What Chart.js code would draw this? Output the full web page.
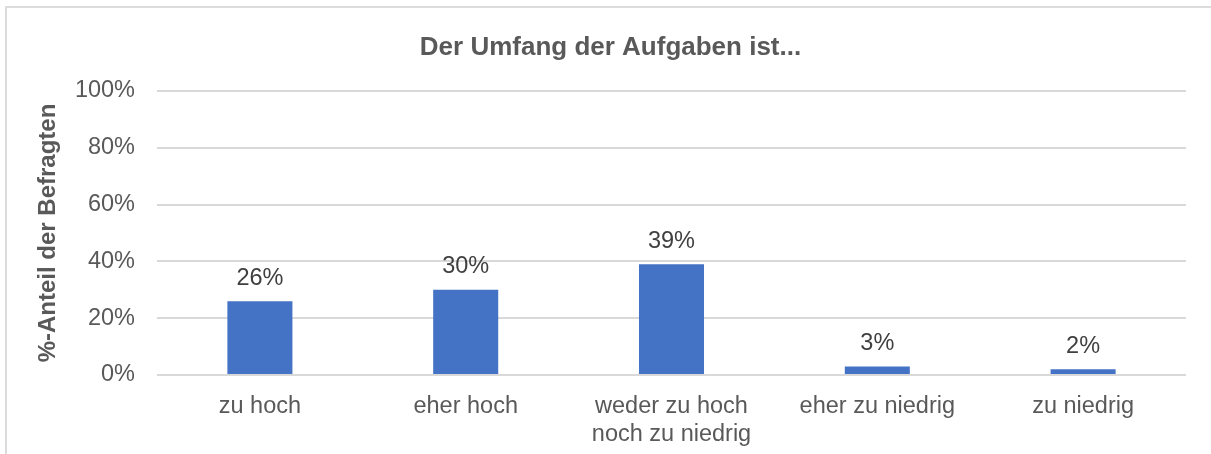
<!DOCTYPE html>
<html>
<head>
<meta charset="utf-8">
<script src="https://cdn.jsdelivr.net/npm/chart.js@4"></script>
<style>
  html, body { margin: 0; padding: 0; background: #fff; overflow: hidden; }
  #wrap { position: relative; width: 1211px; height: 454px; }
  #frame { position: absolute; left: 5px; top: 6px; width: 1300px; height: 600px; border: 2px solid #dcdcdc; box-sizing: border-box; }
  #myChart { position: absolute; left: 0; top: 0; }
</style>
</head>
<body>
<div id="wrap">
  <div id="frame"></div>
  <canvas id="myChart" width="1211" height="454"></canvas>
</div>
<script>
const ctx = document.getElementById('myChart').getContext('2d');

// categories + values (percent)
const categories = [
    'zu hoch',
    'eher hoch',
    ['weder zu hoch', 'noch zu niedrig'],
    'eher zu niedrig',
    'zu niedrig'
];
const shares = [26, 30, 39, 3, 2];
const yTicks = [0, 20, 40, 60, 80, 100];
const chartTitle = 'Der Umfang der Aufgaben ist...';

const FONT = "'Liberation Sans', Arial, sans-serif";

// labels above bars + title (title is not centred on the canvas in the original)
const barLabels = {
    id: 'barLabels',
    afterDatasetsDraw(chart) {
        const c = chart.ctx;
        const meta = chart.getDatasetMeta(0);
        c.save();
        c.font = '23.5px ' + FONT;
        c.fillStyle = '#404040';
        c.textAlign = 'center';
        c.textBaseline = 'alphabetic';
        meta.data.forEach((bar, i) => {
            c.fillText(shares[i] + '%', bar.x, bar.y - 16.5);
        });

        c.font = 'bold 26px ' + FONT;
        c.fillStyle = '#595959';
        c.fillText(chartTitle, 610.5, 55);
        c.restore();
    }
};

const myChart = new Chart(ctx, {
    type: 'bar',
    data: {
        labels: categories,
        datasets: [{
            data: shares,
            backgroundColor: '#4472C4',
            borderWidth: 0,
            categoryPercentage: 1,
            barPercentage: 0.316
        }]
    },
    options: {
        responsive: false,
        devicePixelRatio: 1,
        animation: false,
        layout: { padding: { left: 0, right: 25, top: 91, bottom: 0 } },
        plugins: {
            legend: { display: false },
            tooltip: { enabled: false },
            title: { display: false }
        },
        scales: {
            x: {
                grid: { display: false },
                border: { display: false },
                ticks: {
                    color: '#595959',
                    font: { family: FONT, size: 23.5, lineHeight: 1.17 },
                    padding: 10,
                    maxRotation: 0,
                    autoSkip: false
                },
                afterFit(scale) { scale.height = 79; }
            },
            y: {
                min: 0,
                max: 100,
                afterBuildTicks(scale) {
                    scale.ticks = yTicks.map(v => ({ value: v }));
                },
                grid: { color: '#d9d9d9', lineWidth: 2, drawTicks: false },
                border: { display: false },
                ticks: {
                    color: '#595959',
                    font: { family: FONT, size: 23.5 },
                    padding: 22,
                    callback: v => v + '%'
                },
                title: {
                    display: true,
                    text: '%-Anteil der Befragten',
                    color: '#595959',
                    font: { family: FONT, size: 24, weight: 'bold' },
                    padding: { top: 34, bottom: 0 }
                },
                afterFit(scale) { scale.width = 157; }
            }
        }
    },
    plugins: [barLabels]
});
</script>
</body>
</html>
